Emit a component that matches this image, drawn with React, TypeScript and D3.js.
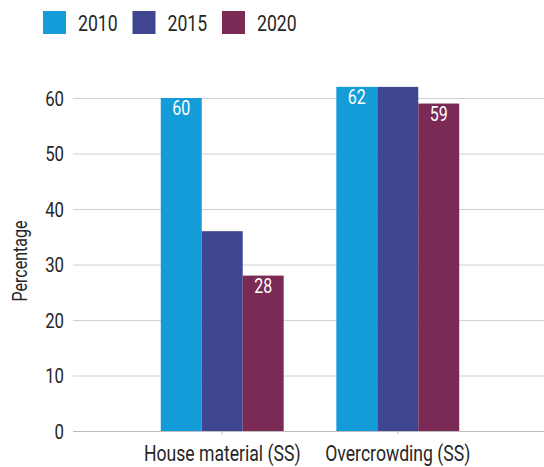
import React from "react";
import * as d3 from "d3";

const categories = ["House material (SS)", "Overcrowding (SS)"];
const years = ["2010", "2015", "2020"];
const values2010 = [60, 62];
const values2015 = [36, 62];
const values2020 = [28, 59];
const labels2010 = ["60", "62"];
const labels2015 = ["", ""];
const labels2020 = ["28", "59"];
const yTicks = [0, 10, 20, 30, 40, 50, 60];
const colors = ["#139cd8", "#3f4590", "#7a2a55"];

const W = 544;
const H = 467;
const FONT = "Roboto, sans-serif";
const SX = 0.8; // squeeze to mimic a condensed face

function Txt({ x, y, size, anchor = "start", fill = "#262626", rotate = 0, children }: any) {
  return (
    <text
      transform={`translate(${x},${y}) rotate(${rotate}) scale(${SX},1)`}
      textAnchor={anchor}
      fontSize={size}
      fill={fill}
      fontFamily={FONT}
    >
      {children}
    </text>
  );
}

export default function App() {
  const series = [values2010, values2015, values2020];
  const labels = [labels2010, labels2015, labels2020];

  const x0 = d3.scaleBand().domain(categories).range([73, 547]).paddingInner(0.3).paddingOuter(0.5);
  const x1 = d3.scaleBand().domain(years).range([0, x0.bandwidth()]);
  const y = d3.scaleLinear().domain([0, 60]).range([431, 98]);

  return (
    <div style={{ position: "absolute", left: 0, top: 0 }}>
      <svg width={W} height={H} style={{ display: "block" }}>
        {/* legend */}
        {years.map((yr, i) => {
          const lx = 43 + i * 89.5;
          return (
            <g key={yr}>
              <rect x={lx} y={11} width={23} height={23} fill={colors[i]} />
              <Txt x={lx + 35} y={31} size={22}>
                {yr}
              </Txt>
            </g>
          );
        })}

        {/* grid */}
        {yTicks.map((t) => (
          <g key={t}>
            {t !== 0 && (
              <line x1={73} x2={W} y1={y(t) + 0.5} y2={y(t) + 0.5} stroke="#d0d0d0" strokeWidth={1} />
            )}
            <Txt x={64} y={y(t) + 7.5} size={21} anchor="end">
              {t}
            </Txt>
          </g>
        ))}

        {/* bars */}
        {categories.map((c, ci) => (
          <g key={c} transform={`translate(${x0(c)},0)`}>
            {years.map((yr, si) => {
              const v = series[si][ci];
              const bx = x1(yr)!;
              return (
                <g key={yr}>
                  <rect x={bx} y={y(v)} width={x1.bandwidth()} height={y(0) - y(v)} fill={colors[si]} />
                  {labels[si][ci] && (
                    <Txt x={bx + x1.bandwidth() / 2} y={y(v) + 17} size={20} anchor="middle" fill="#fff">
                      {labels[si][ci]}
                    </Txt>
                  )}
                </g>
              );
            })}
          </g>
        ))}

        {/* x axis */}
        <line x1={73} x2={W} y1={y(0) + 0.5} y2={y(0) + 0.5} stroke="#bdbdbd" strokeWidth={1} />
        {categories.map((c) => {
          const cx = x0(c)! + x0.bandwidth() / 2;
          return (
            <g key={c}>
              <line x1={cx} x2={cx} y1={y(0) + 1} y2={y(0) + 3} stroke="#bdbdbd" />
              <Txt x={cx} y={461} size={22} anchor="middle">
                {c}
              </Txt>
            </g>
          );
        })}

        <Txt x={27} y={261} size={20} anchor="middle" rotate={-90}>
          Percentage
        </Txt>
      </svg>
    </div>
  );
}
